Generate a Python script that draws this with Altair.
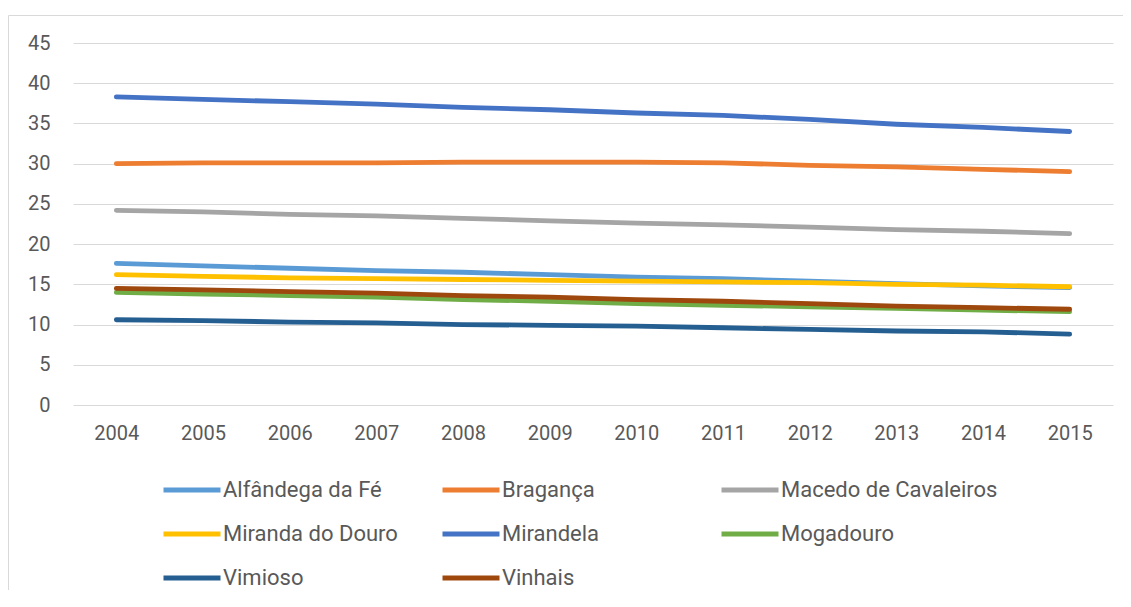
import altair as alt
import pandas as pd

years = [str(y) for y in range(2004, 2016)]

series_names = [
    "Alfândega da Fé", "Bragança", "Macedo de Cavaleiros", "Miranda do Douro",
    "Mirandela", "Mogadouro", "Vimioso", "Vinhais",
]
series_colors = ["#5b9bd5", "#ed7d31", "#a5a5a5", "#ffc000",
                 "#4472c4", "#70ad47", "#255e91", "#9e480e"]

alfandega = [17.6, 17.3, 17.0, 16.7, 16.5, 16.2, 15.9, 15.7, 15.4, 15.1, 14.8, 14.6]
braganca = [30.0, 30.1, 30.1, 30.1, 30.2, 30.2, 30.2, 30.1, 29.8, 29.6, 29.3, 29.0]
macedo = [24.2, 24.0, 23.7, 23.5, 23.2, 22.9, 22.6, 22.4, 22.1, 21.8, 21.6, 21.3]
miranda = [16.2, 16.0, 15.8, 15.7, 15.6, 15.5, 15.4, 15.3, 15.2, 15.0, 14.9, 14.7]
mirandela = [38.3, 38.0, 37.7, 37.4, 37.0, 36.7, 36.3, 36.0, 35.5, 34.9, 34.5, 34.0]
mogadouro = [14.0, 13.8, 13.6, 13.4, 13.1, 12.9, 12.6, 12.4, 12.2, 12.0, 11.8, 11.6]
vimioso = [10.6, 10.5, 10.3, 10.2, 10.0, 9.9, 9.8, 9.6, 9.4, 9.2, 9.1, 8.8]
vinhais = [14.5, 14.3, 14.1, 13.9, 13.6, 13.4, 13.1, 12.9, 12.6, 12.3, 12.1, 11.9]

all_values = [alfandega, braganca, macedo, miranda, mirandela, mogadouro, vimioso, vinhais]

y_ticks = list(range(0, 50, 5))

rows = []
for order, (name, vals) in enumerate(zip(series_names, all_values)):
    for yr, v in zip(years, vals):
        rows.append({"Ano": yr, "Valor": v, "Concelho": name, "ordem": order})
df = pd.DataFrame(rows)

TEXT = "#595959"
GRID = "#d9d9d9"

lines = alt.Chart(df).mark_line(strokeWidth=4.8, strokeCap="round", strokeJoin="round").encode(
    x=alt.X("Ano:O", sort=years, scale=alt.Scale(type="point", padding=0.5),
            axis=alt.Axis(title=None, labelAngle=0, domain=False, ticks=False,
                          labelPadding=18, labelFontSize=20, labelColor=TEXT)),
    y=alt.Y("Valor:Q", scale=alt.Scale(domain=[0, 45], nice=False),
            axis=alt.Axis(title=None, values=y_ticks, domain=False, ticks=False,
                          gridColor=GRID, gridWidth=1, labelPadding=23,
                          labelFontSize=20, labelColor=TEXT)),
    color=alt.Color("Concelho:N", sort=series_names,
                    scale=alt.Scale(domain=series_names, range=series_colors),
                    legend=alt.Legend(title=None, orient="none", direction="horizontal",
                                      legendX=88, legendY=416,
                                      columns=3, gridAlign="all", columnPadding=-11,
                                      rowPadding=2, symbolType="stroke", symbolSize=3249,
                                      symbolStrokeWidth=5, labelFontSize=22, labelColor=TEXT,
                                      labelOffset=0, padding=0, labelLimit=400)),
    order=alt.Order("ordem:Q"),
    detail="Concelho:N",
)

frame = alt.Chart(pd.DataFrame({"k": [0]})).mark_rect(
    filled=False, stroke=GRID, strokeWidth=1
).encode(
    x=alt.value(-64.5), x2=alt.value(1300),
    y=alt.value(-27.5), y2=alt.value(900),
)

chart = alt.layer(frame, lines).properties(
    width=1040, height=362,
    autosize=alt.AutoSizeParams(type="none"),
    padding={"left": 65, "top": 35, "right": 10, "bottom": 185},
).configure(font="Roboto").configure_view(stroke=None)

chart.save("out.html", embed_options={"renderer": "svg", "actions": False})
